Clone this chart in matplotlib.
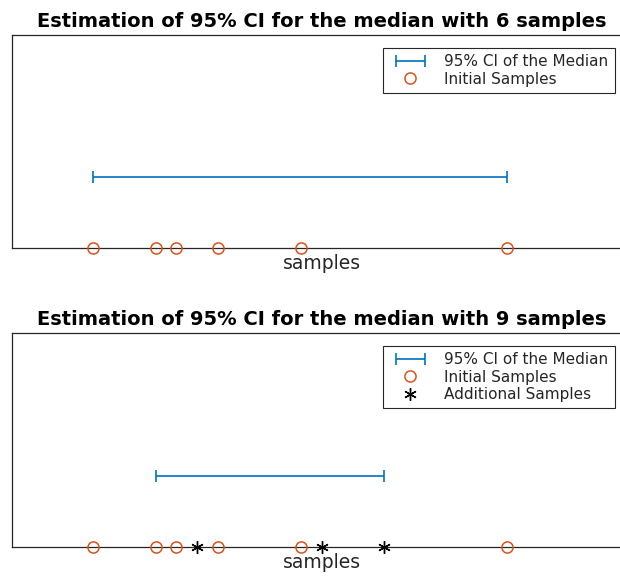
import matplotlib
matplotlib.use('Agg')
import matplotlib.pyplot as plt
from matplotlib.legend_handler import HandlerErrorbar
import numpy as np

plt.rcParams['font.family'] = ['DejaVu Sans']

# sample values
initial = [1.33, 2.37, 2.70, 3.39, 4.75, 8.14]
additional = [3.04, 5.10, 6.12]
ci6 = [1.33, 8.14]
ci9 = [2.37, 6.12]

blue = '#0072BD'
orange = '#D95319'
txt = '#262626'

fig = plt.figure(figsize=(6.2, 5.76), dpi=100)
W, H = 620., 576.

def panel(top, bot, ci, n, extra=None):
    ax = fig.add_axes([12/W, (H-bot)/H, 1.0, (bot-top)/H])
    mid = (ci[0]+ci[1])/2.
    half = (ci[1]-ci[0])/2.
    eb = ax.errorbar([mid], [1], xerr=[half], fmt='none', ecolor=blue, elinewidth=1.2,
                     capsize=4.5, capthick=1.2, label='95% CI of the Median')
    l1, = ax.plot(initial, np.zeros(len(initial)), marker='o', mfc='none', mec=orange, ms=8,
                  mew=1.1, ls='none', clip_on=False, label='Initial Samples', zorder=3)
    handles = [eb, l1]
    if extra is not None:
        l2, = ax.plot(extra, np.zeros(len(extra)), color='k', ms=9, mew=1.0,
                      marker=(6, 2, 0), ls='none', clip_on=False,
                      label='Additional Samples', zorder=3)
        handles.append(l2)
    ax.set_xlim(0, 10.2)
    ax.set_ylim(0, 3)
    ax.set_xticks([])
    ax.set_yticks([])
    for s in ax.spines.values():
        s.set_color(txt)
        s.set_linewidth(0.9)
    ax.set_title('Estimation of 95%% CI for the median with %d samples' % n,
                 fontsize=14, fontweight='bold', color='k', pad=6)
    ax.set_xlabel('samples', fontsize=13.5, color=txt, labelpad=4)
    leg = ax.legend(handles=handles, loc='upper right',
                    bbox_to_anchor=((615-12)/620., 1-13./(bot-top)),
                    handler_map={type(eb): HandlerErrorbar(xerr_size=0.95)},
                    fontsize=11, frameon=True, fancybox=False, framealpha=1,
                    edgecolor=txt, borderpad=0.42, labelspacing=0.15,
                    handlelength=2.7, handletextpad=0.9, borderaxespad=0)
    leg.get_frame().set_linewidth(0.8)
    for t in leg.get_texts():
        t.set_color(txt)
    return ax

panel(35, 248, ci6, 6)
panel(333, 547, ci9, 9, additional)

fig.savefig('out.png', dpi=100)
